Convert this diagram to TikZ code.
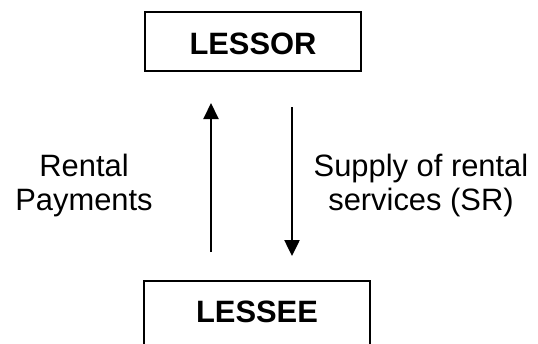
\documentclass[tikz,border=0pt]{standalone}
\usepackage{fontspec}
\setmainfont{Liberation Sans}
\usetikzlibrary{arrows.meta}
\begin{document}
\begin{tikzpicture}[x=1bp,y=-1bp,
  box/.style={draw, line width=2bp, inner sep=0pt, font=\fontsize{31}{37}\selectfont\bfseries},
  lbl/.style={align=center, inner sep=0pt, font=\fontsize{31}{34}\selectfont},
  flow/.style={-{Triangle[width=15bp,length=16bp]}}]
\useasboundingbox (0,0) rectangle (538,343);
\clip (0,0) rectangle (538,343);
\node[box, minimum width=216bp, text height=42bp, text depth=17bp, anchor=base] (lessor) at (253,54) {LESSOR};
\node[box, minimum width=226bp, text height=41bp, text depth=40bp, anchor=base] (lessee) at (257,322) {LESSEE};
\coordinate (upS) at (211,252);
\coordinate (upE) at (211,103);
\coordinate (dnS) at (292,107);
\coordinate (dnE) at (292,256);
\draw[flow, line width=2bp] (upS) -- (upE);
\draw[flow, line width=2.5bp] (dnS) -- (dnE);
\node[lbl, anchor=base] (pay) at (84,210) {Rental\\Payments};
\node[lbl, anchor=base] (sup) at (421,210) {Supply of rental\\services (SR)};
\end{tikzpicture}
\end{document}
